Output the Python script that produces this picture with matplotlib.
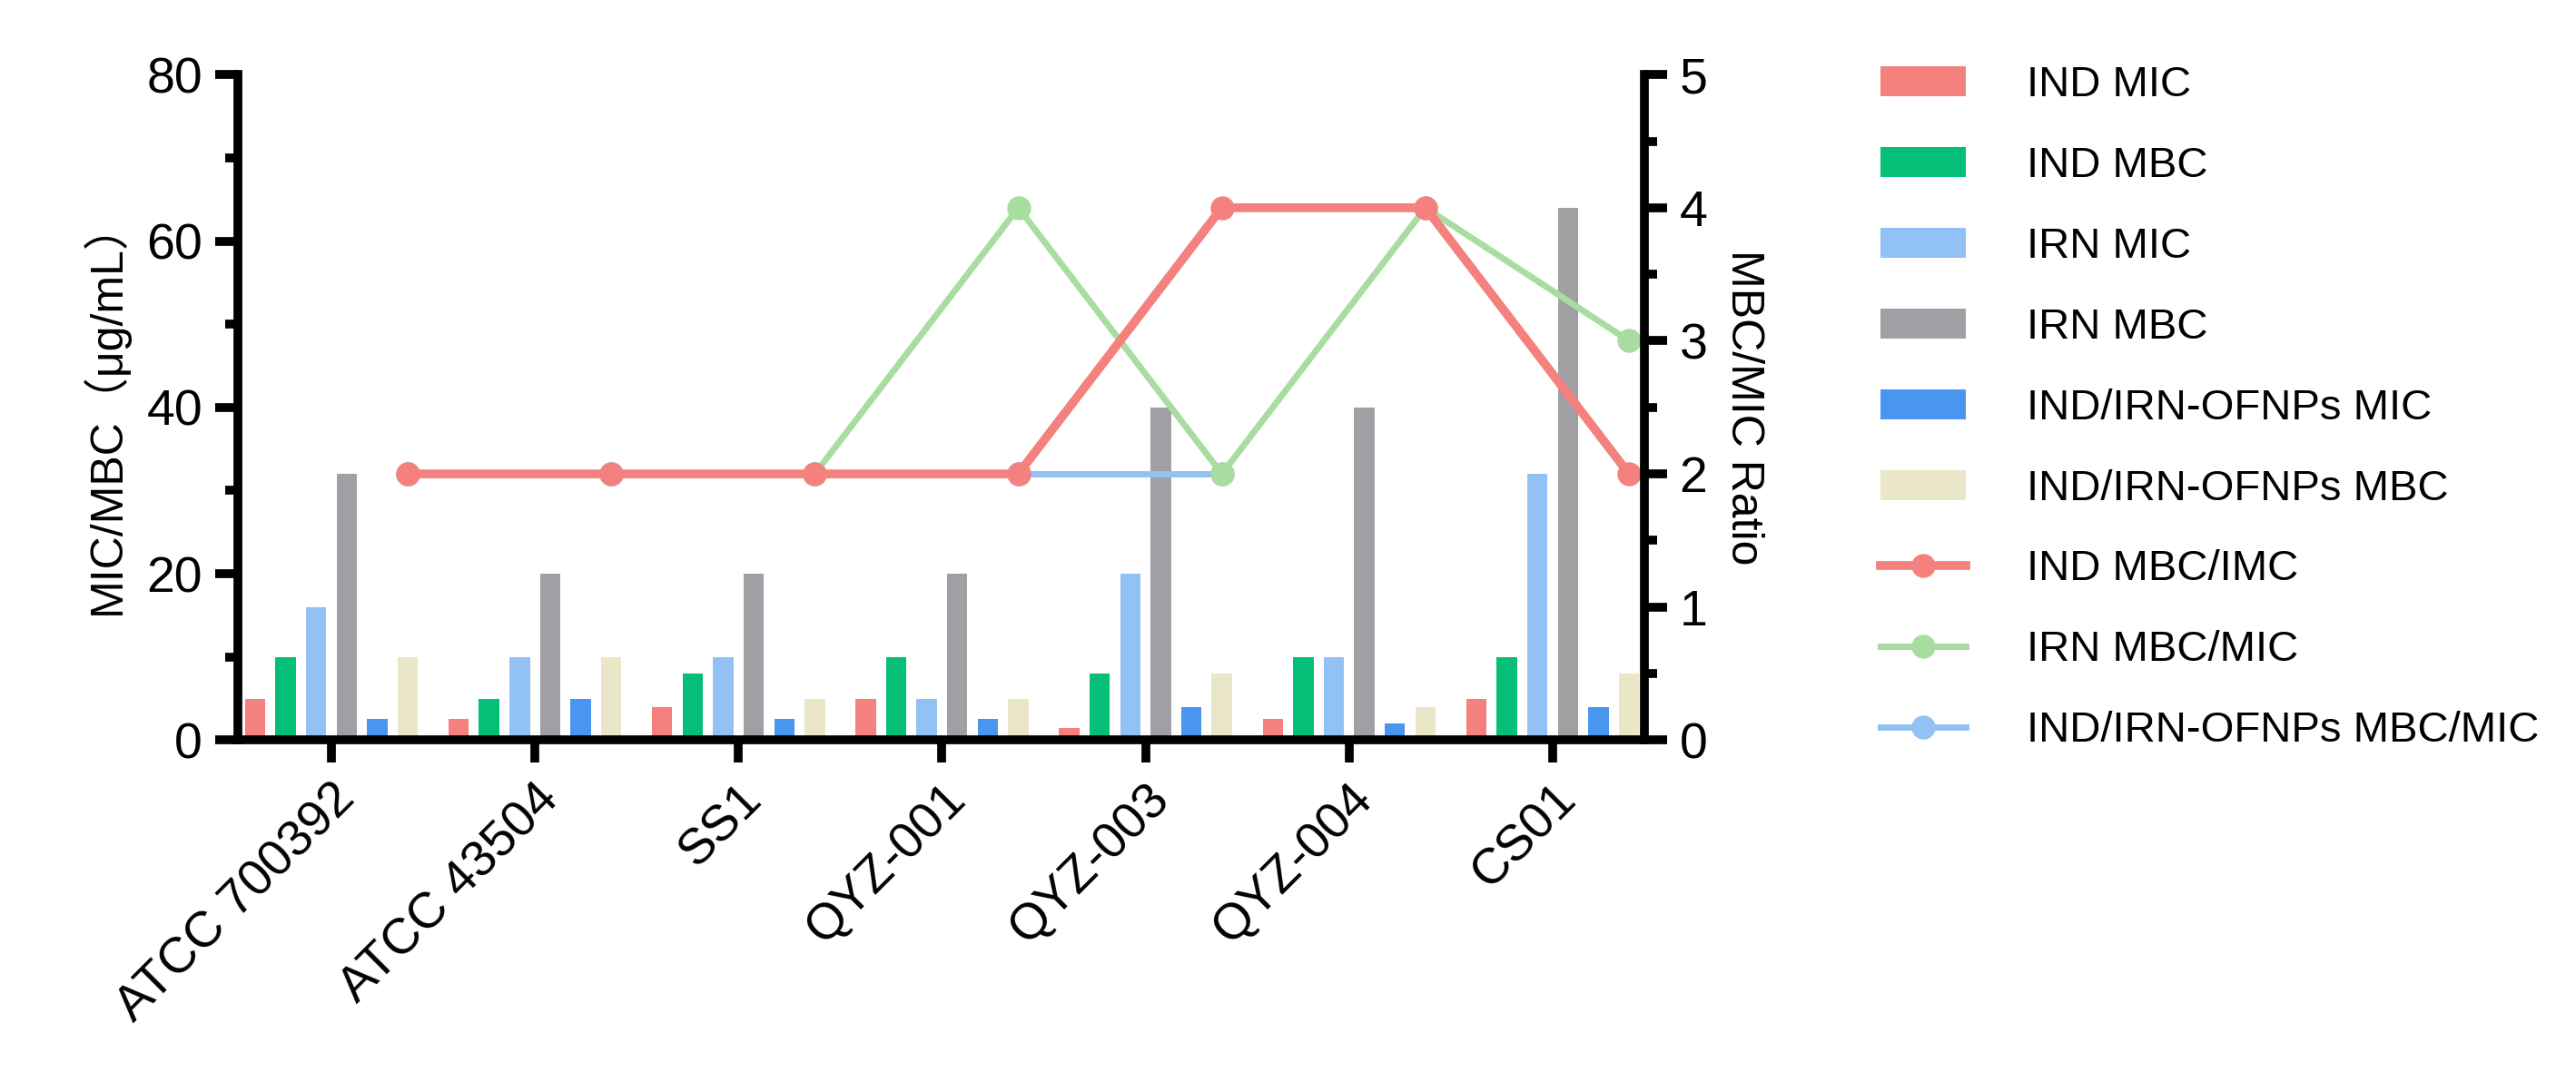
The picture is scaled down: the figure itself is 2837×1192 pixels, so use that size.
import matplotlib
matplotlib.use("Agg")
import matplotlib.pyplot as plt
import numpy as np

plt.rcParams['font.family'] = ['Liberation Sans', 'Noto Sans CJK SC', 'DejaVu Sans']

categories = ["ATCC 700392", "ATCC 43504", "SS1", "QYZ-001", "QYZ-003", "QYZ-004", "CS01"]
ind_mic = [5, 2.5, 4, 5, 1.5, 2.5, 5]
ind_mbc = [10, 5, 8, 10, 8, 10, 10]
irn_mic = [16, 10, 10, 5, 20, 10, 32]
irn_mbc = [32, 20, 20, 20, 40, 40, 64]
of_mic = [2.5, 5, 2.5, 2.5, 4, 2, 4]
of_mbc = [10, 10, 5, 5, 8, 4, 8]
ind_ratio = [2, 2, 2, 2, 4, 4, 2]
irn_ratio = [2, 2, 2, 4, 2, 4, 3]
of_ratio = [2, 2, 2, 2, 2, np.nan, np.nan]

bar_series = [("IND MIC", ind_mic, "#F4817E"), ("IND MBC", ind_mbc, "#05BE78"),
              ("IRN MIC", irn_mic, "#91C1F5"), ("IRN MBC", irn_mbc, "#A0A0A4"),
              ("IND/IRN-OFNPs MIC", of_mic, "#4A95F0"), ("IND/IRN-OFNPs MBC", of_mbc, "#EAE6C8")]
line_series = [("IND MBC/IMC", ind_ratio, "#F4817E"), ("IRN MBC/MIC", irn_ratio, "#A8DCA0"),
               ("IND/IRN-OFNPs MBC/MIC", of_ratio, "#91C1F5")]

fig = plt.figure(figsize=(28.37, 11.92), dpi=100)
ax = fig.add_axes([0.0923, 0.316, 0.546, 0.615])
x = np.arange(len(categories))
step, w = 0.15, 0.1
handles = []
for i, (lab, vals, c) in enumerate(bar_series):
    h = ax.bar(x + (i - 2.5) * step, vals, w, color=c, label=lab)
    handles.append(h)
ax.set_ylim(0, 80)
ax.set_xlim(-0.46, 6.45)
ax.set_yticks([0, 20, 40, 60, 80])
ax.set_yticks(np.arange(0, 81, 10), minor=True)
ax.set_xticks(x)
ax.set_xticklabels(categories, rotation=45, ha='right', rotation_mode='anchor')
ax.set_ylabel("MIC/MBC（μg/mL）", fontsize=36, labelpad=14)
for s in ['top', 'right']:
    ax.spines[s].set_visible(False)
for s in ['left', 'bottom']:
    ax.spines[s].set_linewidth(7)
ax.tick_params(axis='both', which='major', width=7, length=18, labelsize=40, pad=10)
ax.tick_params(axis='y', which='minor', width=7, length=10)

ax2 = ax.twinx()
xl = x + 2.5 * step
lhandles = {}
for idx in [2, 1, 0]:
    lab, vals, c = line_series[idx]
    lw = 7 if idx == 0 else 5
    h, = ax2.plot(xl, vals, '-o', color=c, lw=lw, ms=18, label=lab)
    lhandles[idx] = h
ax2.set_ylim(0, 5)
ax2.set_yticks([0, 1, 2, 3, 4, 5])
ax2.set_yticks(np.arange(0, 5.01, 0.5), minor=True)
for s in ['top', 'left', 'bottom']:
    ax2.spines[s].set_visible(False)
ax2.spines['right'].set_linewidth(7)
ax2.tick_params(axis='y', which='major', width=7, length=18, labelsize=40, pad=10)
ax2.tick_params(axis='y', which='minor', width=7, length=10)
ax2.set_ylabel("MBC/MIC Ratio", fontsize=36, rotation=270, labelpad=45)

allh = handles + [lhandles[0], lhandles[1], lhandles[2]]
fig.legend(allh, [h.get_label() for h in allh], loc='upper left',
           bbox_to_anchor=(0.715, 0.975), frameon=False, fontsize=34,
           labelspacing=0.95, handlelength=2.0, handletextpad=1.4)
fig.savefig("out.png", dpi=100)
